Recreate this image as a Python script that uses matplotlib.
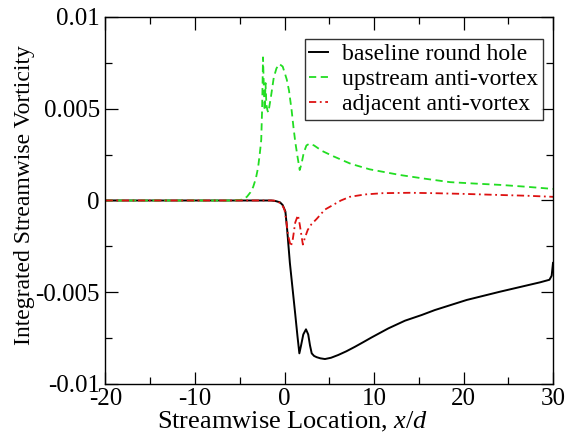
import numpy as np
import matplotlib
matplotlib.use("Agg")
import matplotlib.pyplot as plt

# Integrated streamwise vorticity along the plate, three hole configurations
baseline_x = [-20, -10, -3, -1.5, -1.0, -0.5, -0.2, 0.1, 0.3, 0.6, 0.9, 1.2, 1.45, 1.66,
              1.85, 2.1, 2.4, 2.65, 2.85, 3.04, 3.3, 3.6, 4.0, 4.52, 5.2, 6.0, 6.9,
              7.88, 8.8, 9.74, 11.6, 13.46, 15.33, 16.8, 20.36, 24.08, 28.55, 29.6,
              29.85, 30.0]
baseline_y = [0, 0, 0, 0, -0.00003, -0.0001, -0.00025, -0.0006, -0.0016, -0.0034,
              -0.0048, -0.0062, -0.0074, -0.00833, -0.0079, -0.0073, -0.00702,
              -0.0073, -0.0079, -0.00833, -0.00847, -0.00854, -0.0086, -0.00864,
              -0.00857, -0.00842, -0.00822, -0.00797, -0.00772, -0.00746, -0.00697,
              -0.00655, -0.00624, -0.00597, -0.00542, -0.00497, -0.00446, -0.00432,
              -0.0041, -0.0034]

upstream_x = [-20, -10, -6, -5, -4.6, -4.2, -3.8, -3.5, -3.2, -2.95, -2.75, -2.6, -2.5,
              -2.4, -2.3, -2.22, -2.12, -2.02, -1.9, -1.8, -1.5, -1.2, -0.9, -0.58,
              -0.2, 0.25, 0.5, 0.8, 1.0, 1.2, 1.45, 1.7, 1.9, 2.15, 2.45, 2.8, 3.3,
              4.2, 5.5, 7.4, 9.5, 12.9, 15.5, 18.5, 21.0, 24.1, 27.0, 30.0]
upstream_y = [0, 0, 0, 0.00002, 0.00008, 0.0002, 0.00045, 0.00074, 0.0012, 0.0018,
              0.0026, 0.0033, 0.0050, 0.0078, 0.0060, 0.0049, 0.0064, 0.0052, 0.0049,
              0.0048, 0.0057, 0.0067, 0.0072, 0.00744, 0.0073, 0.0066, 0.0060,
              0.0049, 0.0040, 0.0032, 0.0024, 0.00166, 0.0020, 0.0026, 0.0030,
              0.0031, 0.0030, 0.0027, 0.0024, 0.0020, 0.0017, 0.00139, 0.0012,
              0.0010, 0.00093, 0.00085, 0.00075, 0.00063]

adjacent_x = [-20, -10, -3, -1.2, -0.8, -0.3, 0.0, 0.2, 0.4, 0.7, 0.9, 1.2, 1.5, 1.7,
              2.05, 2.3, 2.6, 3.0, 3.6, 4.5, 5.4, 6.3, 7.3, 9.0, 11.0, 14.0, 16.6,
              20.0, 24.1, 27.0, 30.0]
adjacent_y = [0, 0, 0, 0, -0.00005, -0.0002, -0.0005, -0.0011, -0.0019, -0.0025,
              -0.0022, -0.0012, -0.0008, -0.0013, -0.0024, -0.0020, -0.0016, -0.0013,
              -0.0010, -0.0005, -0.00025, 0.0, 0.0002, 0.00033, 0.0004, 0.00042,
              0.0004, 0.00036, 0.0003, 0.00026, 0.0002]

series_labels = ["baseline round hole", "upstream anti-vortex", "adjacent anti-vortex"]

xticks = [-20, -10, 0, 10, 20, 30]
yticks = [-0.01, -0.005, 0, 0.005, 0.01]
ytick_labels = ["-0.01", "-0.005", "0", "0.005", "0.01"]

plt.rcParams["font.family"] = ["Liberation Serif", "DejaVu Serif"]
plt.rcParams["mathtext.fontset"] = "custom"
plt.rcParams["mathtext.it"] = "Liberation Serif:italic"
plt.rcParams["mathtext.rm"] = "Liberation Serif"
plt.rcParams["axes.unicode_minus"] = False

fig = plt.figure(figsize=(5.69, 4.38), dpi=100)
ax = fig.add_axes([0.1854, 0.1233, 0.9719 - 0.1854, 0.9612 - 0.1233])

ax.plot(baseline_x, baseline_y, color="black", lw=1.4, ls="-", label=series_labels[0])
ax.plot(upstream_x, upstream_y, color="#22dd22", lw=1.3, ls=(0, (4, 2.5)), label=series_labels[1])
ax.plot(adjacent_x, adjacent_y, color="#dd1111", lw=1.3, ls=(0, (4, 2, 1, 2)), label=series_labels[2])

ax.set_xlim(-20, 30)
ax.set_ylim(-0.01, 0.01)
ax.set_xticks(xticks)
ax.set_xticklabels([str(t) for t in xticks])
ax.set_yticks(yticks)
ax.set_yticklabels(ytick_labels)
ax.set_xticks(np.arange(-15, 30, 10), minor=True)
ax.set_yticks(np.arange(-0.0075, 0.01, 0.005), minor=True)

ax.tick_params(which="both", direction="in", top=True, right=True, labelsize=18)
ax.tick_params(which="major", length=9, width=0.9)
ax.tick_params(which="minor", length=5, width=0.9)
ax.tick_params(axis="x", pad=3)
ax.tick_params(axis="y", pad=4)
for s in ax.spines.values():
    s.set_linewidth(1.0)

ax.set_xlabel("Streamwise Location, $x/d$", fontsize=19)
ax.xaxis.set_label_coords(0.417, -0.07)
ax.set_ylabel("Integrated Streamwise Vorticity", fontsize=17)
ax.yaxis.set_label_coords(-0.1575, 0.515)

leg = ax.legend(loc="upper right", bbox_to_anchor=(0.978, 0.940), fontsize=17,
                frameon=True, fancybox=False, borderpad=0.2, labelspacing=0.15,
                handlelength=0.8, handletextpad=0.6, borderaxespad=0)
leg.get_frame().set_edgecolor("black")
leg.get_frame().set_linewidth(1.0)

fig.savefig("out.png", dpi=100)
